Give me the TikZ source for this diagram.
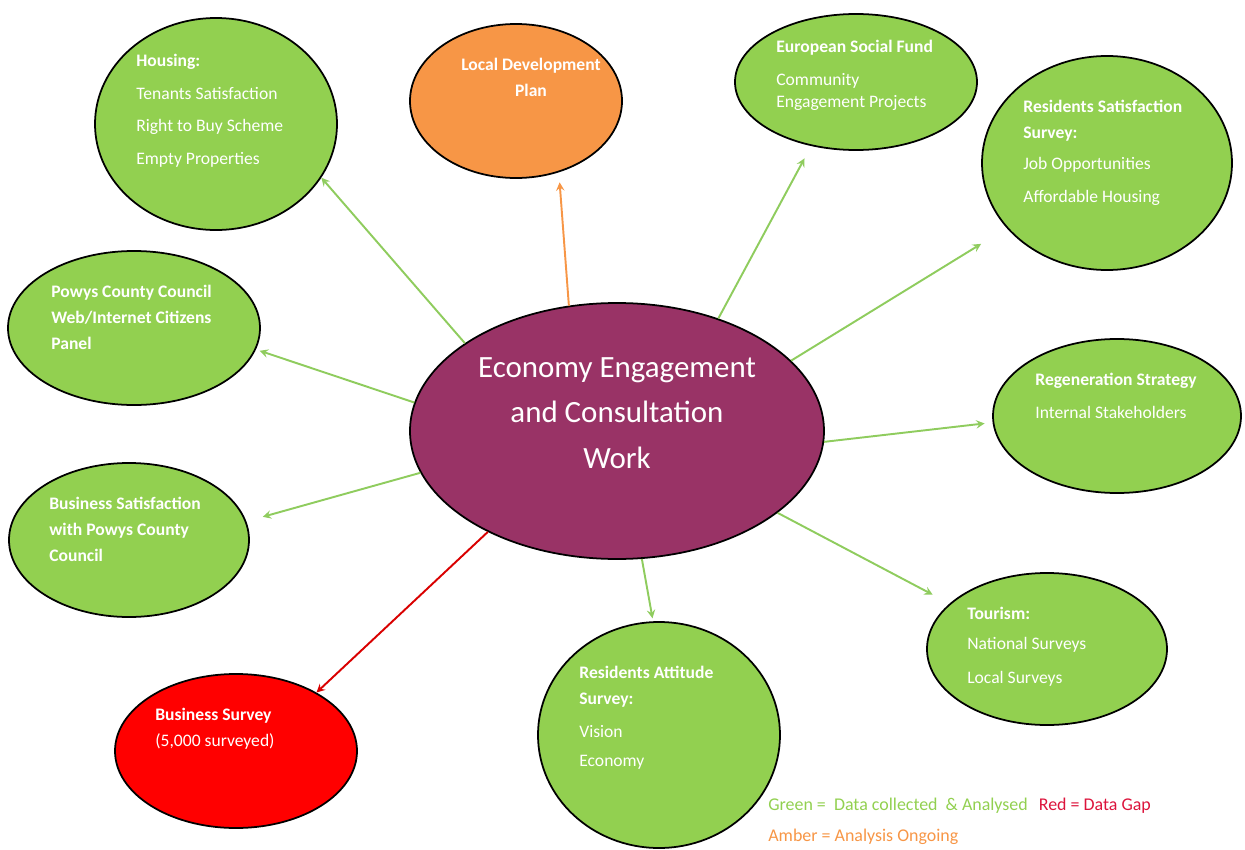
\documentclass[tikz,border=0pt]{standalone}
\usepackage{fontspec}
\setmainfont{Carlito}
\usepackage{tikz}
\usetikzlibrary{shapes}
\usetikzlibrary{arrows}
\definecolor{leafgreen}{HTML}{92D050}
\definecolor{linkgreen}{HTML}{8FCC5E}
\definecolor{amber}{HTML}{F79646}
\definecolor{plum}{HTML}{993366}
\definecolor{gapred}{HTML}{FF0000}
\definecolor{keyred}{HTML}{DC143C}
\tikzstyle{bubble}=[ellipse,draw,line width=1pt,inner sep=0pt,fill=leafgreen]
\tikzstyle{hub}=[ellipse,draw,line width=1pt,inner sep=0pt,fill=plum]
\tikzstyle{txt}=[anchor=north west,align=left,inner sep=0pt,text=white,
font=\fontsize{10}{15}\selectfont]
\tikzstyle{link}=[->,>=stealth,line width=1.1pt,draw=linkgreen]

\begin{document}
\begin{tikzpicture}
\useasboundingbox (0,0) rectangle (24.9,-17);
\node[hub,minimum width=8.28cm,minimum height=5.12cm] (eco) at (12.34,-8.62) {};
\node[bubble,minimum width=4.84cm,minimum height=4.24cm] (housing) at (4.32,-2.48) {};
\node[bubble,fill=amber,minimum width=4.24cm,minimum height=3.08cm] (ldp) at (10.32,-2.02) {};
\node[bubble,minimum width=4.84cm,minimum height=2.72cm] (esf) at (17.12,-1.64) {};
\node[bubble,minimum width=5cm,minimum height=4.28cm] (rss) at (22.14,-3.26) {};
\node[bubble,minimum width=5.04cm,minimum height=3.08cm] (powys) at (2.68,-6.56) {};
\node[bubble,minimum width=4.96cm,minimum height=3.08cm] (regen) at (22.34,-8.32) {};
\node[bubble,minimum width=4.8cm,minimum height=3.08cm] (bussat) at (2.58,-10.8) {};
\node[bubble,minimum width=4.8cm,minimum height=3.04cm] (tourism) at (20.94,-12.98) {};
\node[bubble,minimum width=4.84cm,minimum height=4.52cm] (ras) at (13.18,-14.7) {};
\node[bubble,fill=gapred,minimum width=4.84cm,minimum height=3.08cm] (bussurvey) at (4.72,-15.02) {};
%texts
\node[txt,anchor=north,align=center,font=\fontsize{17.6}{26}\selectfont] (ecotxt) at (12.34,-7.14)
  {Economy Engagement\\and Consultation\\Work};
\node[txt] (housingtxt) at (2.72,-1.07) {\textbf{Housing:}\\[3.7pt]Tenants Satisfaction\\[3.7pt]Right to Buy Scheme\\[3.7pt]Empty Properties};
\node[txt,anchor=north,align=center] (ldptxt) at (10.62,-1.15) {\textbf{Local Development}\\\textbf{Plan}};
\node[txt] (esftxt) at (15.52,-0.79) {\textbf{European Social Fund}\\[3.7pt]Community\\[-2pt]Engagement Projects};
\node[txt] (rsstxt) at (20.46,-1.99) {\textbf{Residents Satisfaction}\\\textbf{Survey:}\\[2.5pt]Job Opportunities\\[4pt]Affordable Housing};
\node[txt] (powystxt) at (1.02,-5.69) {\textbf{Powys County Council}\\\textbf{Web/Internet Citizens}\\\textbf{Panel}};
\node[txt] (regentxt) at (20.70,-7.45) {\textbf{Regeneration Strategy}\\[3.7pt]Internal Stakeholders};
\node[txt] (bussattxt) at (0.98,-9.93) {\textbf{Business Satisfaction}\\\textbf{with Powys County}\\\textbf{Council}};
\node[txt] (tourismtxt) at (19.34,-12.13) {\textbf{Tourism:}\\[2.5pt]National Surveys\\[4pt]Local Surveys};
\node[txt] (rastxt) at (11.58,-13.31) {\textbf{Residents Attitude}\\\textbf{Survey:}\\[3.7pt]Vision\\[1.4pt]Economy};
\node[txt] (bussurveytxt) at (3.10,-14.15) {\textbf{Business Survey}\\(5,000 surveyed)};
\node[txt,text=leafgreen,font=\fontsize{10.2}{15}\selectfont] (key) at (15.36,-15.95) {Green =\ \ Data collected\ \ \& Analysed\hspace{4pt} {\color{keyred}Red = Data Gap}\\[3pt]{\color{amber}Amber = Analysis Ongoing}};
%arrows
\draw[link] (eco.150.9) -- (housing.-27);
\draw[link,draw=amber,shorten >=0.2cm] (eco.111) -- (ldp.-59.4);
\draw[link,shorten >=0.28cm] (eco.48.2) -- (esf.235.1);
\draw[link,shorten >=0.6cm] (eco.22.4) -- (rss.213);
\draw[link,shorten >=0.16cm] (eco.-3) -- (regen.-177.2);
\draw[link,shorten >=0.38cm] (eco.-27.3) -- (tourism.155.8);
\draw[link,shorten >=0.06cm] (eco.-79.9) -- (ras.93.5);
\draw[link,draw=red!85!black] (eco.218.1) -- (bussurvey.36.1);
\draw[link,shorten >=0.34cm] (eco.192.6) -- (bussat.9.2);
\draw[link,shorten >=0.08cm] (eco.172.7) -- (powys.-10.8);
\end{tikzpicture}
\end{document}
